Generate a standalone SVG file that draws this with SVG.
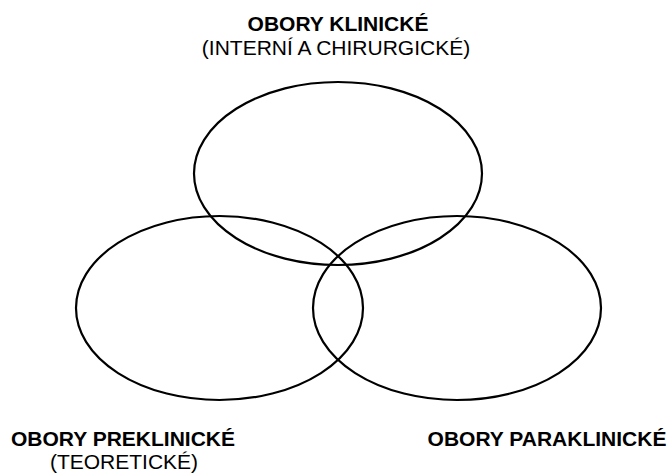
<svg xmlns="http://www.w3.org/2000/svg" width="668" height="474" viewBox="0 0 668 474">
<style>
.e{fill:none;stroke:#000;stroke-width:2.2}
.b{font-family:"Liberation Sans",Arial,sans-serif;font-weight:bold;font-size:21px;fill:#000;text-anchor:middle}
.r{font-family:"Liberation Sans",Arial,sans-serif;font-size:21px;fill:#000;text-anchor:middle}
</style>
<rect width="668" height="474" fill="#fff"/>
<g id="klinicke">
<ellipse class="e" cx="338" cy="173.5" rx="144" ry="91.5"/>
<text class="b" x="338" y="31">OBORY KLINICKÉ</text>
<text class="r" x="336" y="55">(INTERNÍ A CHIRURGICKÉ)</text>
</g>
<g id="preklinicke">
<ellipse class="e" cx="219.5" cy="308" rx="143.5" ry="92"/>
<text class="b" x="123" y="446">OBORY PREKLINICKÉ</text>
<text class="r" x="124" y="469">(TEORETICKÉ)</text>
</g>
<g id="paraklinicke">
<ellipse class="e" cx="457" cy="308" rx="144" ry="92"/>
<text class="b" x="547" y="446">OBORY PARAKLINICKÉ</text>
</g>
<g id="connectors"/>
</svg>
